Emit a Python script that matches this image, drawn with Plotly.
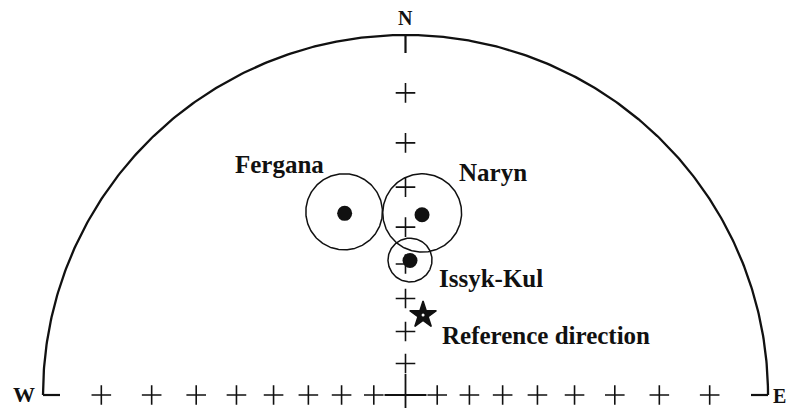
import numpy as np
import plotly.graph_objects as go

# Mean palaeomagnetic directions (declination, inclination, alpha95) per locality
site_names = ["Fergana", "Naryn", "Issyk-Kul"]
site_dec = [341.6, 5.2, 1.9]
site_inc = [34.0, 36.6, 49.0]
site_a95 = [9.4, 9.9, 6.1]

# Expected (reference) direction
ref_label = "Reference direction"
ref_dec = [12.3]
ref_inc = [64.4]

# Inclination ticks marked along the N axis and the E-W line (every 10 degrees)
tick_inc = [80, 70, 60, 50, 40, 30, 20, 10]
tick_dec = [0, 90, 270]
cardinals = ["N", "W", "E"]

INK = "#111111"
SERIF = "Liberation Serif, Times New Roman, serif"


def project(dec, inc):
    """Lower-hemisphere stereographic (equal-angle) projection, unit primitive."""
    d = np.radians(np.asarray(dec, dtype=float))
    i = np.radians(np.asarray(inc, dtype=float))
    xn = np.cos(i) * np.cos(d)
    ye = np.cos(i) * np.sin(d)
    zd = np.sin(i)
    return ye / (1 + zd), xn / (1 + zd)


def cone_of_confidence(dec, inc, a95, n=241):
    d, i, a = np.radians(dec), np.radians(inc), np.radians(a95)
    v = np.array([np.cos(i) * np.cos(d), np.cos(i) * np.sin(d), np.sin(i)])
    u1 = np.array([np.cos(i - np.pi / 2) * np.cos(d),
                   np.cos(i - np.pi / 2) * np.sin(d),
                   np.sin(i - np.pi / 2)])
    u2 = np.cross(v, u1)
    t = np.linspace(0, 2 * np.pi, n)
    pts = (np.cos(a) * v[:, None]
           + np.sin(a) * (np.cos(t)[None, :] * u1[:, None] + np.sin(t)[None, :] * u2[:, None]))
    xn, ye, zd = pts
    return ye / (1 + zd), xn / (1 + zd)


fig = go.Figure()

# Primitive circle (northern half)
arc_dec = np.linspace(-90, 90, 361)
ax_, ay_ = project(arc_dec, np.zeros_like(arc_dec))
fig.add_trace(go.Scatter(x=ax_, y=ay_, mode="lines",
                         line=dict(color=INK, width=2.3), hoverinfo="skip"))

# Short stubs of the E-W line at both ends and the N tick
stub = 0.047
fig.add_trace(go.Scatter(
    x=[-1, -1 + stub, None, 1 - stub, 1, None, 0, 0],
    y=[0, 0, None, 0, 0, None, 1, 1 - 0.05],
    mode="lines", line=dict(color=INK, width=2.2), hoverinfo="skip"))

# 10-degree crosses along the N axis and the E-W line
tx, ty = [], []
for dd in tick_dec:
    px, py = project([dd] * len(tick_inc), tick_inc)
    tx.extend(px.tolist())
    ty.extend(py.tolist())
fig.add_trace(go.Scatter(
    x=tx, y=ty, mode="markers",
    marker=dict(symbol="cross-thin", size=14, color=INK,
                line=dict(color=INK, width=1.6)),
    hoverinfo="skip"))

# Centre (vertical) cross
cx, cy = project([0], [90])
fig.add_trace(go.Scatter(
    x=cx, y=cy, mode="markers",
    marker=dict(symbol="cross-thin", size=30, color=INK,
                line=dict(color=INK, width=1.8)),
    hoverinfo="skip"))

# Cones of confidence
for dec, inc, a95 in zip(site_dec, site_inc, site_a95):
    kx, ky = cone_of_confidence(dec, inc, a95)
    fig.add_trace(go.Scatter(x=kx, y=ky, mode="lines",
                             line=dict(color=INK, width=1.5), hoverinfo="skip"))

# Mean directions
sx, sy = project(site_dec, site_inc)
fig.add_trace(go.Scatter(x=sx, y=sy, mode="markers",
                         marker=dict(symbol="circle", size=15, color=INK),
                         hoverinfo="skip"))

# Reference direction star
rx, ry = project(ref_dec, ref_inc)
fig.add_trace(go.Scatter(x=rx, y=ry, mode="markers",
                         marker=dict(symbol="star", size=20, color=INK,
                                     line=dict(color=INK, width=1.5)),
                         hoverinfo="skip"))
fig.add_trace(go.Scatter(x=rx, y=ry, mode="markers",
                         marker=dict(symbol="circle", size=3, color="white"),
                         hoverinfo="skip"))

label_font = dict(family=SERIF, size=25, color=INK)
offsets = {
    "Fergana": dict(xanchor="right", xshift=-19, yshift=49),
    "Naryn": dict(xanchor="left", xshift=35, yshift=42),
    "Issyk-Kul": dict(xanchor="left", xshift=27, yshift=-18),
}
for name, x0, y0 in zip(site_names, sx, sy):
    fig.add_annotation(x=x0, y=y0, text=f"<b>{name}</b>", showarrow=False,
                       yanchor="middle", font=label_font, **offsets[name])
fig.add_annotation(x=rx[0], y=ry[0], text=f"<b>{ref_label}</b>", showarrow=False,
                   xanchor="left", yanchor="middle", xshift=17, yshift=-20,
                   font=label_font)

# Cardinal letters
card_pos = {"N": project([0], [0]), "W": project([270], [0]), "E": project([90], [0])}
fig.add_annotation(x=card_pos["N"][0][0], y=card_pos["N"][1][0], text="<b>N</b>",
                   showarrow=False, yanchor="bottom", yshift=4,
                   font=dict(family=SERIF, size=20, color=INK))
fig.add_annotation(x=card_pos["W"][0][0], y=card_pos["W"][1][0], text="<b>W</b>",
                   showarrow=False, xanchor="right", yanchor="middle", xshift=-6, yshift=1,
                   font=dict(family=SERIF, size=22, color=INK))
fig.add_annotation(x=card_pos["E"][0][0], y=card_pos["E"][1][0], text="<b>E</b>",
                   showarrow=False, xanchor="left", yanchor="middle", xshift=3, yshift=-1,
                   font=dict(family=SERIF, size=20, color=INK))

fig.update_layout(
    width=789, height=408,
    margin=dict(l=0, r=0, t=0, b=0),
    paper_bgcolor="white", plot_bgcolor="white",
    showlegend=False,
    xaxis=dict(range=[-1.1186, 1.0579], visible=False, fixedrange=True),
    yaxis=dict(range=[-0.0361, 1.0972], visible=False, fixedrange=True),
)

fig.write_html("out.html")
